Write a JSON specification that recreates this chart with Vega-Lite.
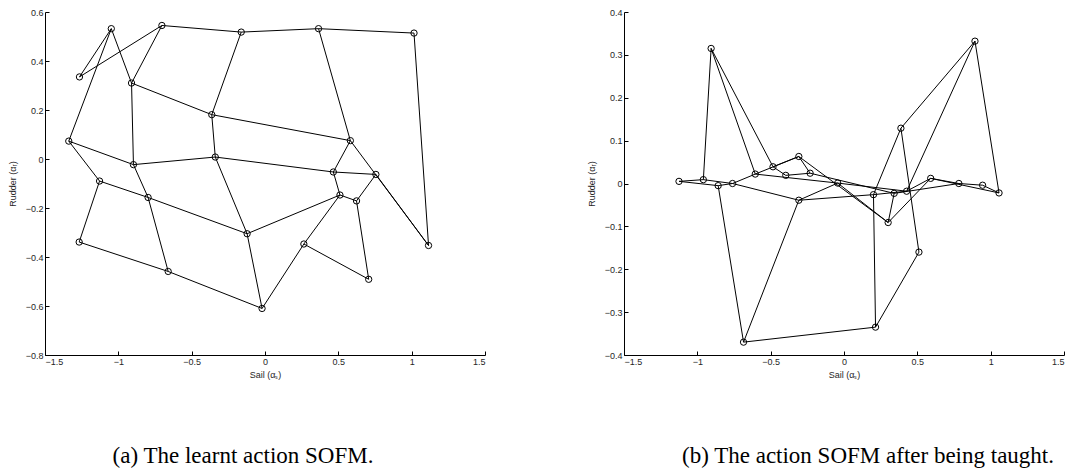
{
  "$schema": "https://vega.github.io/schema/vega-lite/v6.json",
  "padding": {"left": 8, "top": 8, "right": 5, "bottom": 5},
  "background": "white",
  "config": {
    "view": {"stroke": null},
    "font": "Liberation Sans",
    "axis": {
      "grid": false,
      "domainColor": "#000000",
      "domainWidth": 1,
      "tickColor": "#000000",
      "tickSize": -4,
      "tickWidth": 1,
      "labelFont": "Liberation Sans",
      "labelFontSize": 9,
      "labelColor": "#262626",
      "labelPadding": 6,
      "titleFont": "Liberation Sans",
      "titleFontSize": 9,
      "titleFontWeight": "normal",
      "titleColor": "#262626"
    },
    "title": {
      "font": "Liberation Serif",
      "fontSize": 23,
      "fontWeight": "normal",
      "color": "#000000",
      "orient": "bottom",
      "anchor": "middle",
      "offset": 66
    }
  },
  "datasets": {
    "learnt": [
      {"r": 0, "c": 0, "x": -1.265, "y": 0.335},
      {"r": 0, "c": 1, "x": -0.703, "y": 0.545},
      {"r": 0, "c": 2, "x": -0.162, "y": 0.518},
      {"r": 0, "c": 3, "x": 0.365, "y": 0.532},
      {"r": 0, "c": 4, "x": 1.016, "y": 0.514},
      {"r": 1, "c": 0, "x": -1.048, "y": 0.532},
      {"r": 1, "c": 1, "x": -0.91, "y": 0.31},
      {"r": 1, "c": 2, "x": -0.363, "y": 0.181},
      {"r": 1, "c": 3, "x": 0.582, "y": 0.075},
      {"r": 1, "c": 4, "x": 1.115, "y": -0.353},
      {"r": 2, "c": 0, "x": -1.338, "y": 0.073},
      {"r": 2, "c": 1, "x": -0.897, "y": -0.023},
      {"r": 2, "c": 2, "x": -0.339, "y": 0.008},
      {"r": 2, "c": 3, "x": 0.466, "y": -0.053},
      {"r": 2, "c": 4, "x": 0.756, "y": -0.063},
      {"r": 3, "c": 0, "x": -1.128, "y": -0.09},
      {"r": 3, "c": 1, "x": -0.797, "y": -0.157},
      {"r": 3, "c": 2, "x": -0.122, "y": -0.305},
      {"r": 3, "c": 3, "x": 0.511, "y": -0.147},
      {"r": 3, "c": 4, "x": 0.624, "y": -0.171},
      {"r": 4, "c": 0, "x": -1.267, "y": -0.339},
      {"r": 4, "c": 1, "x": -0.66, "y": -0.459},
      {"r": 4, "c": 2, "x": -0.02, "y": -0.61},
      {"r": 4, "c": 3, "x": 0.265, "y": -0.347},
      {"r": 4, "c": 4, "x": 0.707, "y": -0.491}
    ],
    "taught": [
      {"r": 0, "c": 0, "x": 0.511, "y": -0.16},
      {"r": 0, "c": 1, "x": 0.388, "y": 0.129},
      {"r": 0, "c": 2, "x": 0.893, "y": 0.332},
      {"r": 0, "c": 3, "x": 1.057, "y": -0.022},
      {"r": 0, "c": 4, "x": 0.945, "y": -0.004},
      {"r": 1, "c": 0, "x": 0.215, "y": -0.335},
      {"r": 1, "c": 1, "x": 0.201, "y": -0.026},
      {"r": 1, "c": 2, "x": 0.427, "y": -0.018},
      {"r": 1, "c": 3, "x": 0.591, "y": 0.012},
      {"r": 1, "c": 4, "x": 0.783, "y": 0.0},
      {"r": 2, "c": 0, "x": -0.685, "y": -0.37},
      {"r": 2, "c": 1, "x": -0.308, "y": -0.039},
      {"r": 2, "c": 2, "x": -0.043, "y": 0.001},
      {"r": 2, "c": 3, "x": 0.301, "y": -0.091},
      {"r": 2, "c": 4, "x": 0.342, "y": -0.023},
      {"r": 3, "c": 0, "x": -0.858, "y": -0.005},
      {"r": 3, "c": 1, "x": -0.76, "y": 0.0},
      {"r": 3, "c": 2, "x": -0.605, "y": 0.022},
      {"r": 3, "c": 3, "x": -0.308, "y": 0.063},
      {"r": 3, "c": 4, "x": -0.231, "y": 0.024},
      {"r": 4, "c": 0, "x": -1.125, "y": 0.005},
      {"r": 4, "c": 1, "x": -0.959, "y": 0.009},
      {"r": 4, "c": 2, "x": -0.906, "y": 0.315},
      {"r": 4, "c": 3, "x": -0.484, "y": 0.039},
      {"r": 4, "c": 4, "x": -0.397, "y": 0.019}
    ]
  },
  "spacing": 101,
  "hconcat": [
    {
      "width": 440,
      "height": 343,
      "data": {"name": "learnt"},
      "title": {"text": "(a) The learnt action SOFM.", "dx": -22},
      "encoding": {
        "x": {
          "field": "x", "type": "quantitative",
          "scale": {"domain": [-1.5, 1.5], "nice": false, "zero": false},
          "axis": {"title": "Sail (αₛ)", "values": [-1.5, -1, -0.5, 0, 0.5, 1, 1.5], "format": "~g", "titlePadding": 4}
        },
        "y": {
          "field": "y", "type": "quantitative",
          "scale": {"domain": [-0.8, 0.6], "nice": false, "zero": false},
          "axis": {"title": "Rudder (αᵣ)", "values": [-0.8, -0.6, -0.4, -0.2, 0, 0.2, 0.4, 0.6], "format": "~g", "titlePadding": 8}
        }
      },
      "layer": [
        {
          "mark": {"type": "line", "color": "#000000", "strokeWidth": 1},
          "encoding": {"detail": {"field": "r", "type": "nominal"}, "order": {"field": "c", "type": "quantitative"}}
        },
        {
          "mark": {"type": "line", "color": "#000000", "strokeWidth": 1},
          "encoding": {"detail": {"field": "c", "type": "nominal"}, "order": {"field": "r", "type": "quantitative"}}
        },
        {
          "mark": {"type": "point", "shape": "circle", "filled": false, "color": "#000000", "size": 40, "strokeWidth": 1, "opacity": 1}
        }
      ]
    },
    {
      "width": 440,
      "height": 343,
      "data": {"name": "taught"},
      "title": {"text": "(b) The action SOFM after being taught.", "dx": 24},
      "encoding": {
        "x": {
          "field": "x", "type": "quantitative",
          "scale": {"domain": [-1.5, 1.5], "nice": false, "zero": false},
          "axis": {"title": "Sail (αₛ)", "values": [-1.5, -1, -0.5, 0, 0.5, 1, 1.5], "format": "~g", "titlePadding": 4}
        },
        "y": {
          "field": "y", "type": "quantitative",
          "scale": {"domain": [-0.4, 0.4], "nice": false, "zero": false},
          "axis": {"title": "Rudder (αᵣ)", "values": [-0.4, -0.3, -0.2, -0.1, 0, 0.1, 0.2, 0.3, 0.4], "format": "~g", "titlePadding": 8}
        }
      },
      "layer": [
        {
          "mark": {"type": "line", "color": "#000000", "strokeWidth": 1},
          "encoding": {"detail": {"field": "r", "type": "nominal"}, "order": {"field": "c", "type": "quantitative"}}
        },
        {
          "mark": {"type": "line", "color": "#000000", "strokeWidth": 1},
          "encoding": {"detail": {"field": "c", "type": "nominal"}, "order": {"field": "r", "type": "quantitative"}}
        },
        {
          "mark": {"type": "point", "shape": "circle", "filled": false, "color": "#000000", "size": 40, "strokeWidth": 1, "opacity": 1}
        }
      ]
    }
  ]
}
